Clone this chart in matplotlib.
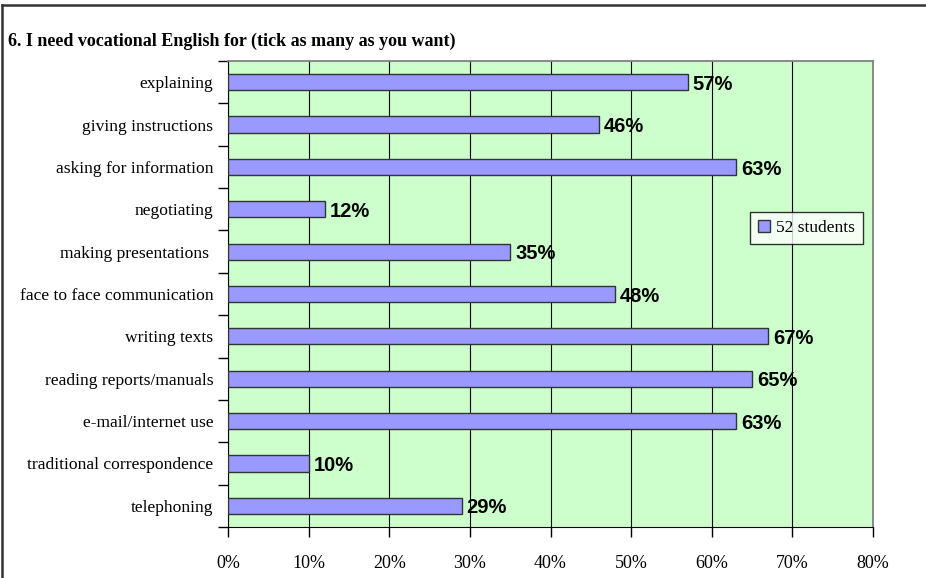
import matplotlib.pyplot as plt
import numpy as np
from matplotlib.lines import Line2D

categories = ['explaining', 'giving instructions', 'asking for information', 'negotiating',
              'making presentations ', 'face to face communication', 'writing texts',
              'reading reports/manuals', 'e-mail/internet use', 'traditional correspondence',
              'telephoning']
values = [57, 46, 63, 12, 35, 48, 67, 65, 63, 10, 29]
xticks = [0, 10, 20, 30, 40, 50, 60, 70, 80]
series_name = '52 students'
title = '6. I need vocational English for (tick as many as you want)'

serif = 'Liberation Serif'

fig = plt.figure(figsize=(9.26, 5.78), dpi=100)
ax = fig.add_axes([228/926, 1 - 527/578, 645/926, 466/578])
ax.set_facecolor('#CCFFCC')

n = len(categories)
y = np.arange(n)[::-1]
ax.barh(y, values, height=0.38, color='#9999FF', edgecolor='#333333',
        linewidth=1, label=series_name, zorder=3)
for yi, v in zip(y, values):
    ax.text(v + 0.6, yi - 0.05, f'{v}%', va='center', ha='left', fontsize=14.5,
            fontweight='bold', family='Liberation Sans', zorder=4)

ax.set_xlim(0, 80)
ax.set_ylim(-0.5, n - 0.5)
ax.set_xticks(xticks)
ax.set_xticklabels([f'{t}%' for t in xticks], family=serif, fontsize=13)
ax.xaxis.grid(True, color='black', linewidth=0.8, zorder=1)
ax.tick_params(axis='x', direction='out', length=7, width=1, pad=13)

ax.set_yticks(y)
ax.set_yticklabels(categories, family=serif, fontsize=12.6)
ax.set_yticks(np.arange(-0.5, n, 1), minor=True)
ax.tick_params(axis='y', which='major', length=0, pad=10.5)
ax.tick_params(axis='y', which='minor', direction='out', length=7, width=1)

for s in ['top', 'right']:
    ax.spines[s].set_color('#808080')
    ax.spines[s].set_linewidth(1.3)
ax.spines['left'].set_color('black')
ax.spines['bottom'].set_color('black')

leg = ax.legend(loc='upper left', bbox_to_anchor=(0.81, 0.675), prop={'family': serif, 'size': 12.5},
                frameon=True, fancybox=False, edgecolor='black', handlelength=0.7,
                handleheight=0.7, handletextpad=0.35, borderpad=0.45, borderaxespad=0)
leg.get_frame().set_linewidth(1)

fig.text(8/926, 1 - 41/578, title, family=serif, fontsize=13, fontweight='bold',
         va='center', ha='left')

# chart area border: only top and left edges show
fig.lines.append(Line2D([0.002, 0.999], [1 - 5/578, 1 - 5/578], transform=fig.transFigure,
                        color='#333333', linewidth=1.8))
fig.lines.append(Line2D([2/926, 2/926], [0, 1 - 5/578], transform=fig.transFigure,
                        color='#333333', linewidth=1.8))

fig.savefig('out.png', dpi=100)
